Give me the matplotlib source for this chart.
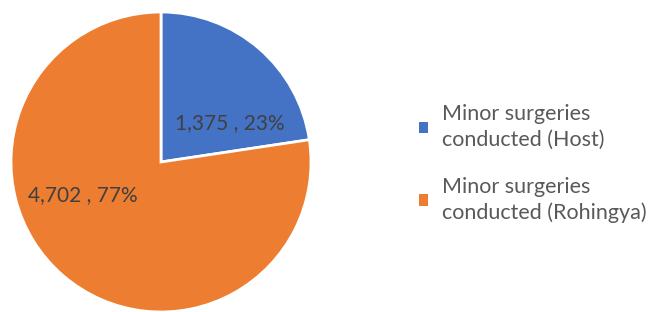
import matplotlib
matplotlib.use("Agg")
import matplotlib.pyplot as plt
from matplotlib.patches import Patch

plt.rcParams["font.family"] = ["Lato", "DejaVu Sans"]

categories = ["Minor surgeries\nconducted (Host)", "Minor surgeries\nconducted (Rohingya)"]
values = [1375, 4702]
colors = ["#4472C4", "#ED7D31"]
label_pos = [(0.46, 0.26), (-0.52, -0.22)]

total = sum(values)

fig = plt.figure(figsize=(6.56, 3.12), dpi=100)
ax = fig.add_axes([11 / 656, 0, 300 / 656, 300 / 312])
ax.pie(values, colors=colors, startangle=90, counterclock=False,
       wedgeprops=dict(edgecolor="white", linewidth=2))
ax.set_xlim(-1, 1)
ax.set_ylim(-1, 1)
ax.set_aspect("equal")

for v, (x, y) in zip(values, label_pos):
    ax.text(x, y, f"{v:,} , {round(100 * v / total)}%", ha="center", va="center",
            fontsize=15, color="#404040")

handles = [Patch(facecolor=c, edgecolor="none") for c in colors]
leg = fig.legend(handles, categories, loc="center left", bbox_to_anchor=(0.626, 0.476),
                 frameon=False, fontsize=15.5, labelcolor="#595959",
                 handlelength=0.42, handleheight=0.42, handletextpad=0.65,
                 labelspacing=1.25, borderaxespad=0)
for t in leg.get_texts():
    t.set_linespacing(1.35)

fig.savefig("out.png", dpi=100)
